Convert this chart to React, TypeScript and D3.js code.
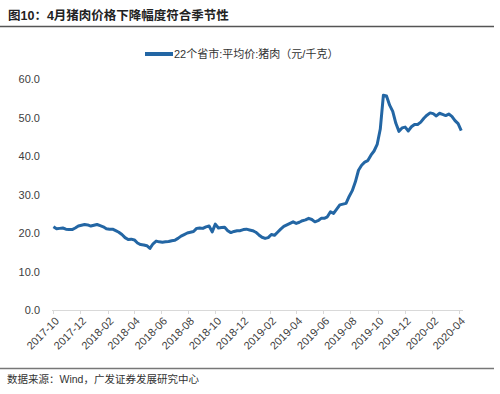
import React, { useEffect, useRef } from 'react';
import * as d3 from 'd3';

// weekly series, 22 provinces average pork price (yuan/kg)
const startDate = new Date(2017, 9, 2);
const porkPrice = [
  21.6, 21.1, 21.2, 21.3, 21.0, 20.9, 20.9, 21.3, 21.8, 22.0,
  22.2, 22.1, 21.8, 22.0, 22.2, 21.9, 21.6, 21.1, 21.0, 21.0,
  20.6, 20.2, 19.6, 18.8, 18.3, 18.4, 18.2, 17.4, 17.0, 16.9,
  16.7, 16.0, 17.2, 17.9, 17.7, 17.6, 17.7, 17.8, 18.0, 18.1,
  18.6, 19.2, 19.6, 20.0, 20.2, 20.4, 21.2, 21.3, 21.2, 21.6,
  21.8, 20.3, 22.3, 21.3, 21.4, 21.5, 20.6, 20.1, 20.4, 20.6,
  20.6, 20.9, 21.0, 20.8, 20.6, 20.2, 19.5, 18.9, 18.6, 18.8,
  19.6, 19.4, 20.2, 21.0, 21.7, 22.1, 22.5, 22.9, 22.5, 22.8,
  23.2, 23.4, 23.8, 23.5, 22.9, 23.2, 23.8, 23.8, 24.2, 25.5,
  25.1, 26.2, 27.3, 27.5, 27.7, 29.5, 31.0, 33.3, 36.3, 37.6,
  38.4, 38.8, 40.2, 41.3, 43.0, 47.0, 55.8, 55.6, 53.2, 51.6,
  48.5, 46.4, 47.3, 47.5, 46.5, 47.6, 48.2, 48.2, 48.8, 49.8,
  50.6, 51.2, 51.0, 50.4, 51.1, 50.8, 50.5, 50.9, 50.3, 49.2,
  48.4, 46.6,
];
const yTicks = [0, 10, 20, 30, 40, 50, 60];
const xTickMonths = [
  '2017-10', '2017-12', '2018-02', '2018-04', '2018-06', '2018-08', '2018-10', '2018-12',
  '2019-02', '2019-04', '2019-06', '2019-08', '2019-10', '2019-12', '2020-02', '2020-04',
];

const title = '图10：4月猪肉价格下降幅度符合季节性';
const seriesName = '22个省市:平均价:猪肉（元/千克）';
const source = '数据来源：Wind，广发证券发展研究中心';

const W = 500;
const H = 394;
const FONT = '"Liberation Sans", Arial, "Noto Sans CJK SC", sans-serif';
const BLUE = '#2366a4';

export default function App() {
  const svgRef = useRef<SVGSVGElement | null>(null);

  useEffect(() => {
    if (!svgRef.current) return;
    const svg = d3.select(svgRef.current);
    svg.selectAll('*').remove();

    const parseMonth = d3.timeParse('%Y-%m');
    const data = porkPrice.map((v, i) => ({ date: d3.timeWeek.offset(startDate, i), value: v }));

    const x = d3.scaleTime()
      .domain([parseMonth('2017-10') as Date, parseMonth('2020-04') as Date])
      .range([53, 459]);
    const y = d3.scaleLinear().domain([0, 60]).range([310, 79]);

    // title
    svg.append('text')
      .attr('x', 8).attr('y', 20)
      .attr('font-size', 12.5).attr('font-weight', 'bold')
      .attr('fill', '#222')
      .text(title);
    svg.append('line')
      .attr('x1', 0).attr('x2', 494).attr('y1', 26.5).attr('y2', 26.5)
      .attr('stroke', '#555').attr('stroke-width', 1.5);

    // legend
    svg.append('line')
      .attr('x1', 145).attr('x2', 173).attr('y1', 54).attr('y2', 54)
      .attr('stroke', BLUE).attr('stroke-width', 4);
    svg.append('text')
      .attr('x', 174).attr('y', 58)
      .attr('font-size', 11).attr('fill', '#333')
      .text(seriesName);

    // y labels
    svg.append('g').selectAll('text').data(yTicks).join('text')
      .attr('x', 40).attr('y', d => y(d) + 4)
      .attr('text-anchor', 'end')
      .attr('font-size', 11).attr('fill', '#404040')
      .text(d => d3.format('.1f')(d));

    // x axis
    const xAxis = svg.append('g');
    xAxis.append('line')
      .attr('x1', 52).attr('x2', 463).attr('y1', 310.5).attr('y2', 310.5)
      .attr('stroke', '#d9d9d9').attr('stroke-width', 1);
    const tickDates = xTickMonths.map(m => parseMonth(m) as Date);
    xAxis.selectAll('line.tick').data(tickDates).join('line')
      .attr('class', 'tick')
      .attr('x1', d => Math.round(x(d)) + 0.5).attr('x2', d => Math.round(x(d)) + 0.5)
      .attr('y1', 310).attr('y2', 314)
      .attr('stroke', '#d9d9d9');
    xAxis.selectAll('text').data(xTickMonths).join('text')
      .attr('transform', (d) => `translate(${x(parseMonth(d) as Date) + 4},${319}) rotate(-45)`)
      .attr('text-anchor', 'end')
      .attr('dy', '0.35em')
      .attr('font-size', 11).attr('fill', '#404040')
      .text(d => d);

    // series line
    const line = d3.line<{ date: Date; value: number }>()
      .x(d => x(d.date))
      .y(d => y(d.value));
    svg.append('path')
      .datum(data)
      .attr('d', line)
      .attr('fill', 'none')
      .attr('stroke', BLUE)
      .attr('stroke-width', 3)
      .attr('stroke-linejoin', 'round');

    // footer
    svg.append('line')
      .attr('x1', 0).attr('x2', 494).attr('y1', 368.5).attr('y2', 368.5)
      .attr('stroke', '#777').attr('stroke-width', 1.5);
    svg.append('text')
      .attr('x', 7).attr('y', 383)
      .attr('font-size', 10.5).attr('fill', '#333')
      .text(source);
  }, []);

  return (
    <svg
      ref={svgRef}
      width={W}
      height={H}
      style={{ position: 'absolute', left: 0, top: 0, background: '#fff', fontFamily: FONT }}
    />
  );
}
